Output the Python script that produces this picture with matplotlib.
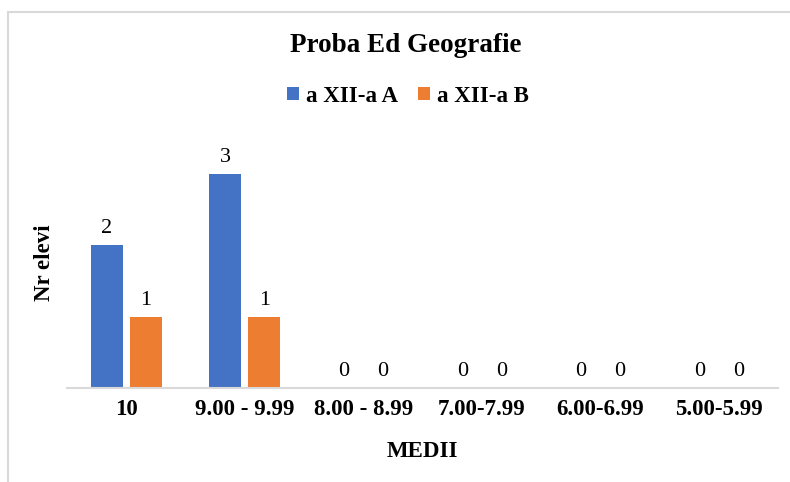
import matplotlib
matplotlib.use("Agg")
import matplotlib.pyplot as plt
from matplotlib.patches import Rectangle
import numpy as np

categories = ["10", "9.00 - 9.99", "8.00 - 8.99", "7.00-7.99", "6.00-6.99", "5.00-5.99"]
series_a = [2, 3, 0, 0, 0, 0]
series_b = [1, 1, 0, 0, 0, 0]
name_a = "a XII-a A"
name_b = "a XII-a B"

plt.rcParams['font.family'] = ['Liberation Serif', 'DejaVu Serif']

fig = plt.figure(figsize=(7.9, 4.82), dpi=100)
ax = fig.add_axes([67/790, 1-388/482, (778-67)/790, (388-138)/482])

x = np.arange(len(categories))
w = 0.27
off = 0.165
bars_a = ax.bar(x - off, series_a, w, color="#4472C4", label=name_a)
bars_b = ax.bar(x + off, series_b, w, color="#ED7D31", label=name_b)

for bars, vals in ((bars_a, series_a), (bars_b, series_b)):
    for b, v in zip(bars, vals):
        ax.annotate(str(v), (b.get_x() + b.get_width()/2, v), xytext=(0, 5),
                    textcoords="offset points", ha="center", va="bottom", fontsize=16)

ax.set_xlim(-0.5, len(categories) - 0.5)
ax.set_ylim(0, 3.5)
ax.set_yticks([])
ax.set_xticks(x)
ax.set_xticklabels(categories, fontsize=16.5, fontweight="bold")
ax.tick_params(axis="x", length=0, pad=8)
for s in ("top", "right", "left"):
    ax.spines[s].set_visible(False)
ax.spines["bottom"].set_color("#d9d9d9")
ax.spines["bottom"].set_linewidth(1.5)

ax.set_xlabel("MEDII", fontsize=16.5, fontweight="bold", labelpad=15)
ax.set_ylabel("Nr elevi", fontsize=16.5, fontweight="bold", labelpad=9)

fig.text(406/790, 1-45/482, "Proba Ed Geografie", ha="center", va="center",
         fontsize=19.5, fontweight="bold")
leg = fig.legend(handles=[bars_a, bars_b], loc="center", bbox_to_anchor=(408/790, 1-96/482),
                 ncol=2, frameon=False, prop={"size": 16.5, "weight": "bold"},
                 handlelength=0.5, handleheight=0.5, handletextpad=0.3, columnspacing=0.9)

fig.patches.append(Rectangle((8/790, -0.1), 1.2, 1.1-12/482, transform=fig.transFigure,
                             fill=False, edgecolor="#d9d9d9", linewidth=1.5))

fig.savefig("out.png", dpi=100)
